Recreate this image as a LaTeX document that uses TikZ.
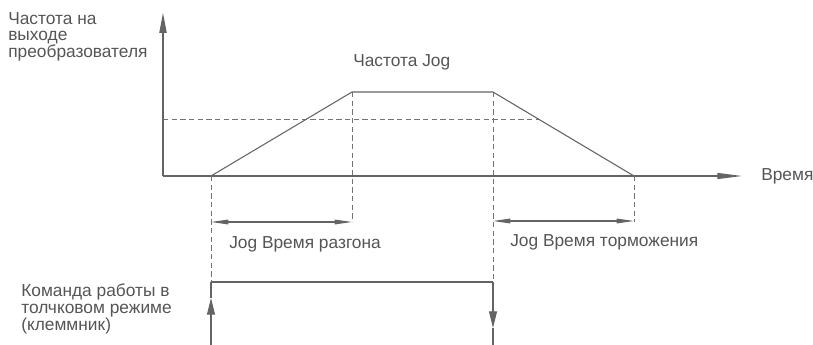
\documentclass[tikz,border=0pt]{standalone}
\usepackage{fontspec}
\setmainfont{Liberation Sans}
\usetikzlibrary{arrows.meta}
\definecolor{textgray}{RGB}{85,85,85}
\definecolor{linegray}{RGB}{100,100,100}
\definecolor{dashgray}{RGB}{115,115,115}
\tikzset{
  ln/.style={draw=linegray, line width=0.8pt},
  dsh/.style={draw=dashgray, line width=0.75pt, dash pattern=on 4pt off 2.5pt},
  lbl/.style={text=textgray, inner sep=0pt, font=\fontsize{13}{12.6}\selectfont},
  axtipy/.style={-{Triangle[length=15pt,width=5.5pt]}},
  axtipx/.style={-{Triangle[length=18.5pt,width=4.5pt]}},
  dimtip/.style={{Triangle[length=13pt,width=3.5pt]}-{Triangle[length=13pt,width=3.5pt]}},
  cmdtip/.style={-{Triangle[length=12.5pt,width=6pt]}}
}
\begin{document}
\begin{tikzpicture}[x=0.75pt,y=-0.75pt]
\useasboundingbox (0,0) rectangle (813,345);
% coordinates
\coordinate (O) at (163,176);
\coordinate (Ytop) at (163,13);
\coordinate (Xend) at (742,176);
\coordinate (A) at (211,176);
\coordinate (B) at (352,92);
\coordinate (C) at (493,92);
\coordinate (D) at (634,176);
\coordinate (H1) at (163,120);
\coordinate (H2) at (540,120);
\coordinate (Bd) at (352,222);
\coordinate (Dd) at (634,222);
\coordinate (Ad) at (211,222);
\coordinate (Cd) at (493,222);
\coordinate (P1) at (211,282);
\coordinate (P2) at (493,282);
\coordinate (L0) at (211,345);
\coordinate (Lm) at (211,298);
\coordinate (R0) at (493,345);
\coordinate (Rm) at (493,328);
% axes
\draw[ln, axtipy] (O) -- (Ytop);
\draw[ln, axtipx] (O) -- (Xend);
% dashed level
\draw[dsh] (H1) -- (H2);
% dashed verticals
\draw[dsh] (A) -- (P1);
\draw[dsh] (B) -- (Bd);
\draw[dsh] (C) -- (P2);
\draw[dsh] (D) -- (Dd);
% trapezoid
\draw[ln, line join=miter] (A) -- (B) -- (C) -- (D);
% dimension arrows
\draw[ln, dimtip] (Ad) -- (Bd);
\draw[ln, dimtip] ([yshift=0.75pt]Cd) -- ([yshift=0.75pt]Dd);
% command pulse
\draw[ln] (P1) -- (P2);
\draw[ln, cmdtip] (L0) -- (Lm);
\draw[ln] (Lm) -- (P1);
\draw[ln, cmdtip] (P2) -- (Rm);
\draw[ln] (Rm) -- (R0);
% labels
\node[lbl, anchor=north west, align=left] (ylab) at (8,12) {Частота на\\выходе\\преобразователя};
\node[lbl, anchor=base west] (jog) at (353,67) {Частота Jog};
\node[lbl, anchor=base west] (time) at (761,181) {Время};
\node[lbl, anchor=base west] (acc) at (229,248) {Jog Время разгона};
\node[lbl, anchor=base west] (dec) at (510,247) {Jog Время торможения};
\node[lbl, anchor=north west, align=left] (cmd) at (21,284) {Команда работы в\\толчковом режиме\\(клеммник)};
\end{tikzpicture}
\end{document}
